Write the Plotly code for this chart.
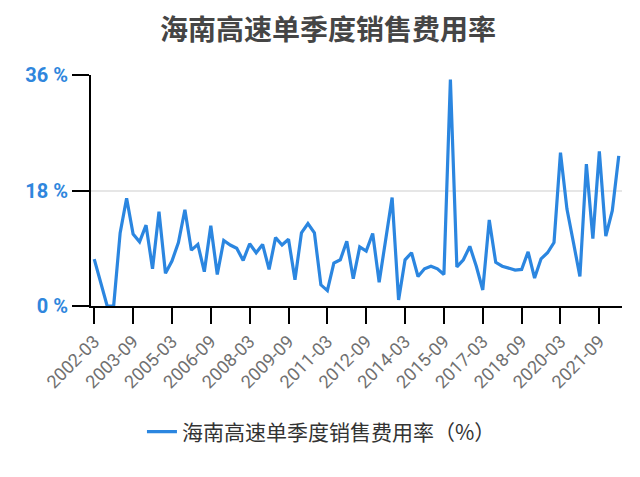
import plotly.graph_objects as go

# quarterly labels 2002-03 .. 2022-06
quarters = [f"{y}-{m}" for y in range(2002, 2023) for m in ("03", "06", "09", "12")][:82]

sales_rate = [
    7.3, 3.7, 0.0, 0.0, 11.4, 16.8, 11.2, 10.0, 12.6, 5.8,
    14.7, 5.1, 7.0, 9.9, 15.0, 8.7, 9.6, 5.35, 12.5, 4.9,
    10.2, 9.5, 9.0, 7.1, 9.7, 8.3, 9.6, 5.7, 10.65, 9.5,
    10.4, 4.1, 11.4, 12.85, 11.4, 3.3, 2.4, 6.7, 7.2, 10.1,
    4.25, 9.2, 8.55, 11.3, 3.7, 10.3, 16.9, 0.95, 7.2, 8.3,
    4.6, 5.8, 6.2, 5.8, 4.9, 35.3, 6.1, 7.2, 9.3, 6.2,
    2.5, 13.4, 6.8, 6.2, 5.9, 5.6, 5.7, 8.45, 4.35, 7.35,
    8.3, 9.9, 23.9, 15.1, 9.9, 4.6, 22.1, 10.5, 24.1, 10.9,
    14.85, 23.4,
]

y_ticks = [0, 18, 36]
y_labels = ["0 %", "18 %", "36 %"]

fig = go.Figure()
fig.add_trace(go.Scatter(
    x=quarters, y=sales_rate, mode="lines",
    name="海南高速单季度销售费用率（%）",
    line=dict(color="#2b86e0", width=3.2),
))

# page body adds an 8px offset, margins compensate for it
fig.update_layout(
    width=640, height=477,
    paper_bgcolor="white", plot_bgcolor="white",
    margin=dict(l=83, r=26, t=67, b=179),
    font=dict(family="Noto Sans CJK SC, Roboto, sans-serif"),
    title=dict(text="<b>海南高速单季度销售费用率</b>", x=0.5, xanchor="center",
               y=0.954, yanchor="middle",
               font=dict(size=28, color="#454545")),
    showlegend=True,
    legend=dict(orientation="h", x=0.434, xanchor="center", y=-0.545, yanchor="middle",
                font=dict(size=21, color="#333")),
)

fig.update_xaxes(
    type="category", range=[-0.5, len(quarters) - 0.5], automargin=False,
    tickmode="array", tickvals=quarters[::6], ticktext=quarters[::6],
    tickangle=-45, tickfont=dict(size=18, color="#707070", family="Roboto, sans-serif"),
    ticks="outside", ticklen=16, tickcolor="black", tickwidth=1.5,
    showline=True, linecolor="black", linewidth=2, showgrid=False,
)
fig.update_yaxes(
    range=[0, 36], automargin=False,
    tickmode="array", tickvals=y_ticks, ticktext=y_labels,
    tickfont=dict(size=20, color="#2f86dd", family="Roboto, sans-serif", weight="bold"),
    ticks="outside", ticklen=17, tickcolor="black", tickwidth=1.5,
    showline=True, linecolor="black", linewidth=2,
    showgrid=True, gridcolor="#e6e6e6", gridwidth=1.5, zeroline=False,
)

fig.write_html("out.html")
